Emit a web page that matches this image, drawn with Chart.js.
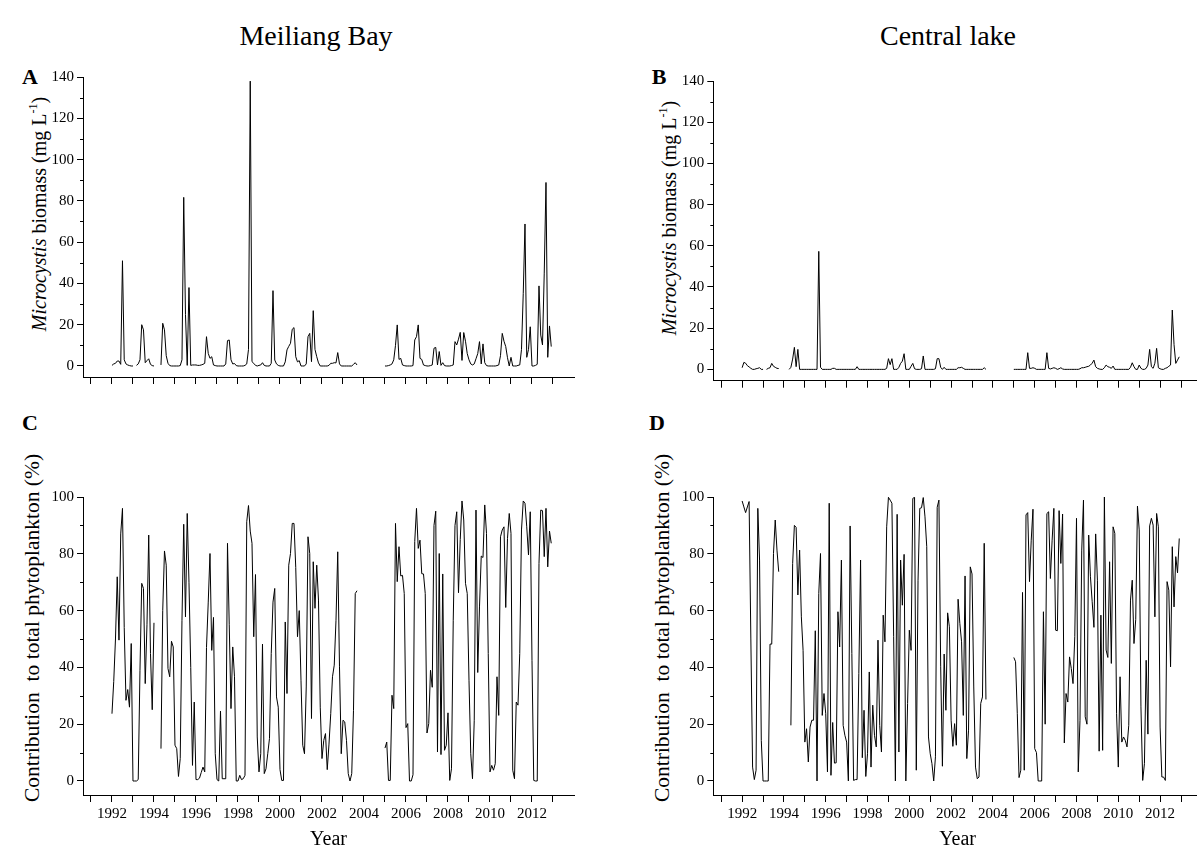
<!DOCTYPE html>
<html>
<head>
<meta charset="utf-8">
<script src="https://cdn.jsdelivr.net/npm/chart.js@4.4.1/dist/chart.umd.min.js"></script>
<style>
  html, body { margin: 0; padding: 0; background: #fff; }
  body { width: 1197px; height: 851px; position: relative; overflow: hidden;
         font-family: 'Liberation Serif', 'Times New Roman', serif; color: #000; }
  canvas { position: absolute; }
  .lbl { position: absolute; white-space: nowrap; transform: translate(-50%, -50%); line-height: 1; }
  .head { font-size: 28px; }
  .letter { font-size: 22px; font-weight: bold; }
  .ytitle { font-size: 20px; transform: translate(-50%, -50%) rotate(-90deg); }
  .ytitle.share { font-size: 21.5px; }
  .ytitle sup { font-size: 0.6em; vertical-align: 0.7em; }
</style>
</head>
<body>
<div class="lbl head" style="left:316px; top:36px">Meiliang Bay</div>
<div class="lbl head" style="left:948px; top:36px">Central lake</div>
<div class="lbl letter" style="left:30px; top:77px">A</div>
<div class="lbl letter" style="left:659px; top:77px">B</div>
<div class="lbl letter" style="left:30px; top:423px">C</div>
<div class="lbl letter" style="left:657px; top:423px">D</div>
<div class="lbl ytitle" style="left:38px; top:214px"><i>Microcystis</i> biomass (mg L<sup>-1</sup>)</div>
<div class="lbl ytitle" style="left:668px; top:218px"><i>Microcystis</i> biomass (mg L<sup>-1</sup>)</div>
<div class="lbl ytitle share" style="left:33px; top:628px">Contribution&nbsp;&nbsp;to total phytoplankton (%)</div>
<div class="lbl ytitle share" style="left:663px; top:628px">Contribution&nbsp;&nbsp;to total phytoplankton (%)</div>

<canvas id="chartA"></canvas>
<canvas id="chartB"></canvas>
<canvas id="chartC"></canvas>
<canvas id="chartD"></canvas>

<script>
// years of monthly sampling, one row of 12 values per year
const years = [1992, 1993, 1994, 1995, 1996, 1997, 1998, 1999, 2000, 2001, 2002,
               2003, 2004, 2005, 2006, 2007, 2008, 2009, 2010, 2011, 2012];
const xTickYears = [1991, 1992, 1993, 1994, 1995, 1996, 1997, 1998, 1999, 2000, 2001, 2002,
                    2003, 2004, 2005, 2006, 2007, 2008, 2009, 2010, 2011, 2012, 2013];
const biomassTicks = [0, 10, 20, 30, 40, 50, 60, 70, 80, 90, 100, 110, 120, 130, 140];
const shareTicks = [0, 10, 20, 30, 40, 50, 60, 70, 80, 90, 100];
const _ = null;

// Meiliang Bay, Microcystis biomass (mg/L)
const meiliangBiomass = [
  0.3, 1, 1.3, 2.4, 2.4, 0.8, 51, 3, 1, 0.5, 0.2, 0,
  0, _, 0.3, 1, 3, 20, 17.5, 1.6, 2.6, 3.5, 0.8, 0.2,
  0, _, _, _, 0.5, 20.7, 17.5, 5, 1.3, 0.2, 0, 0,
  0, 0, 0, 0.2, 3, 81.7, 25, 0.3, 38, 0.3, 0.5, 0.5,
  0.5, 0.3, 0.3, 0.5, 0.8, 1.3, 14.2, 6.1, 3.7, 4.5, 0.5, 0.2,
  0, 0, 0, 0, 0, 1, 12.3, 12.6, 3, 1, 1.2, 0.2,
  0, 0, 0, 0, 0.3, 1, 8, 138, 2.1, 1.3, 0.3, 0,
  0.3, 0.5, 1.6, 0.3, 0, 0, 0, 1.3, 36.5, 2.9, 1, 0.3,
  0, 0, 0, 2, 7.8, 9.5, 11, 17.8, 18.6, 4.5, 2, 2.6,
  0, 0, 0, 1, 14.2, 15.8, 2.1, 26.8, 8, 4.5, 1.5, 0,
  0, 0, 0, 0, 0.3, 1.3, 1.3, 1.6, 1.5, 6.5, 1, 0,
  0, 0, 0, 0, 0, 0, 0.8, 1.6, 0.5, _, _, _,
  _, _, _, _, _, _, _, _, _, _, _, _,
  0, 0, 0.2, 0.5, 1, 3, 10, 19.9, 3.2, 3.7, 0.5, 0.2,
  0, 0, 0, 0, 0.2, 12.6, 14.2, 19.9, 3.7, 3.2, 0.5, 0.2,
  0, 0, 0.2, 0.5, 8.6, 9, 0.5, 7, 0.3, 1.6, 0.2, 0,
  0, 0, 0.2, 0.5, 11.8, 10.2, 13, 16.3, 2.7, 16.2, 12, 6,
  3, 1, 0.5, 1, 3.5, 6, 11.8, 1, 10.7, 1.6, 0.2, 0,
  0, 0, 0, 0, 0.2, 0.5, 5, 15.8, 12, 9.4, 4, 0,
  4.2, 0, 0, 0, 0.3, 0.5, 8, 35, 68.8, 4.2, 8, 19,
  0, 0, 0.3, 0.8, 38.8, 15, 10.2, 45, 88.9, 4.2, 19.4, 9.4
];

// Central lake, Microcystis biomass (mg/L)
const centralBiomass = [
  0.8, 3.4, 3, 1.8, 1.2, 0.5, 0, 0, 0.3, 0.5, 0.8, 0,
  0, _, 0, 0.5, 0.8, 2.9, 1.5, 1, 0.5, 0.4, _, _,
  _, _, _, 0, 1, 5, 10.7, 1.3, 9.7, 0, 0, 0,
  0, 0, 0, 0, 0, 0, 0, 0, 57.3, 1, 0, 0,
  0, 0, 0, 0, 0.5, 0.5, 0, 0, 0, 0, 0, 0,
  0, 0, 0, 0, 0, 0, 1.3, 0, 0, 0, 0, 0,
  0, 0, 0, 0, 0, 0, 0, 0, 0, 0, 0, 0.5,
  5.2, 2.3, 5.2, 0, 0, 0, 1, 2.9, 4, 7.6, 0, 0,
  0, 1.5, 2.9, 0.3, 0, 0, 0, 0.3, 6.5, 0, 0, 0,
  0, 0, 0, 0.3, 5.2, 5.2, 1, 0, 1, 0, 0, 0,
  0, 0, 0, 0, 0.8, 0.8, 1, 0.5, 0, 0, 0, 0,
  0, 0, 0, 0, 0, 0, 0, 0.8, 0, _, _, _,
  _, _, _, _, _, _, _, _, _, _, _, _,
  0, 0, 0, 0, 0, 0, 0, 0, 8.1, 0.5, 0.5, 0.8,
  0.5, 0, 0, 0, 0, 0, 0, 8.1, 0.5, 0.2, 0.5, 0.8,
  0.5, 0, 0.3, 0.8, 0.2, 0, 0, 0, 0, 0, 0, 0,
  0, 0, 0.3, 0.8, 0.8, 1, 1.3, 1.5, 2.1, 3, 4.5, 1.3,
  0.5, 0.2, 0, 0, 0.8, 2.1, 1.3, 1, 0.5, 1.6, 0, 0,
  0, 0, 0, 0, 0, 0, 0, 1, 3.2, 1.3, 0, 0,
  2.1, 0.5, 0, 0, 0.5, 2.1, 9.7, 1.3, 0.5, 3, 10.2, 0.8,
  0.3, 0, 0, 0.5, 0.8, 1.5, 2.1, 28.8, 12, 2.9, 4.5, 6.1
];

// Meiliang Bay, contribution to total phytoplankton (%)
const meiliangShare = [
  23.7, 35, 50, 71.9, 49.6, 87, 96, 54, 28.4, 32.2, 26, 48.4,
  0, 0, 0, 0.5, 39, 69.6, 67.8, 34.3, 55, 86.6, 44.9, 25.1,
  55.7, _, _, _, 11.4, 60, 81, 76, 39.6, 36.7, 49.2, 47.2,
  12.6, 11.4, 1.6, 7.9, 56.6, 90.4, 57.8, 94.2, 70, 40, 5.5, 27.8,
  0.5, 0.5, 1, 3, 4.9, 3.2, 47, 63, 80.1, 46, 57.6, 9.6,
  0.5, 0, 24.6, 0.8, 0.8, 0.8, 83.7, 55, 25.5, 47.2, 36.7, 0,
  0, 2, 0.5, 0.8, 2, 91.3, 97, 88, 83.7, 50.8, 72.7, 15.5,
  3.2, 9.6, 48.2, 2.6, 4.3, 9.6, 15, 44.9, 63, 67.8, 29.6, 26,
  4, 0.2, 0.2, 56, 30.8, 76, 80.1, 90.7, 90.7, 75.2, 50.8, 60,
  35.5, 12.6, 9.6, 33.1, 86, 80.1, 22, 77.2, 60.8, 76, 63.7, 26,
  7.9, 14.3, 16.7, 4, 13, 23.7, 36.7, 40.8, 56.6, 80.7, 40.2, 9.6,
  21.4, 20.8, 14.3, 2.6, 0, 2.6, 24.9, 66, 67, _, _, _,
  _, _, _, _, _, _, _, _, _, _, _, _,
  11.6, 13.7, 0.2, 0.2, 30.2, 25.5, 90.7, 70.2, 82.5, 72.2, 72.4, 66,
  18.8, 20.2, 0, 0, 2.2, 84.3, 96, 81.9, 84.8, 73, 72.9, 66,
  16.9, 20.2, 39, 33, 90, 95, 10.2, 80.1, 9.3, 72.9, 10.8, 12.6,
  24, 0.2, 4.3, 56.6, 90, 94.8, 66.3, 85, 98.6, 91.9, 69.6, 66,
  35.5, 9.6, 0.8, 21.4, 95.4, 38.2, 61.3, 79.2, 78.7, 97.2, 87.2, 44.9,
  3.2, 5.5, 3.8, 6.1, 36.7, 23.1, 86, 88.4, 89.5, 61.1, 85.4, 94.2,
  87.2, 3.8, 0.8, 27.8, 26.7, 44.9, 88.4, 98.6, 97.8, 89.5, 79.6, 94.8,
  42.5, 0.2, 0, 0, 76.6, 95.4, 95.2, 79, 96, 75.4, 88, 83.7
];

// Central lake, contribution to total phytoplankton (%)
const centralShare = [
  98.6, 96.5, 94.5, 96.5, 98.4, 50, 4.9, 0.5, 3.8, 96, 77.8, 14.3,
  0, 0, 0, 0, 48.2, 48.2, 80.1, 91.9, 81.3, 73.7, _, _,
  _, _, _, _, 19.6, 76.6, 90, 89.3, 65.5, 81.3, 57.8, 46,
  13.7, 18.4, 6.7, 19, 21.4, 21.4, 52.9, 0, 66, 80.1, 23.1, 30.8,
  23.7, 3.2, 97.8, 2, 20.6, 6.3, 6.4, 59.6, 47.2, 77.8, 19.6, 16.1,
  13.7, 0, 89.8, 44.9, 0.2, 0.5, 0.5, 37.8, 77.8, 8.2, 24.9, 1.6,
  9.6, 38.4, 4.9, 26.7, 16.1, 12, 49.6, 19.6, 10.2, 58.4, 49, 89.5,
  99.9, 98.9, 97.8, 50.8, 0, 93.9, 10.2, 77.8, 61.9, 79.8, 0, 27.3,
  53.1, 46, 99.5, 99.9, 3.8, 70.7, 96, 96.2, 99.8, 93, 82.5, 15.5,
  9.6, 6.1, 0, 8.5, 96.4, 98.9, 40.2, 5.2, 44.7, 24.9, 59.2, 54.3,
  21.4, 12.2, 20.2, 12.6, 64, 55.5, 49, 23.1, 72.2, 7.9, 17.9, 75.4,
  72.9, 33.1, 4.9, 0.8, 1.4, 27.3, 29.6, 83.7, 28.7, _, _, _,
  _, _, _, _, _, _, _, _, _, _, _, _,
  43.5, 42, 23.7, 1.2, 3.8, 66.4, 3.8, 93.7, 94.5, 70.2, 84.8, 95.7,
  11.4, 10, 0, 0, 0, 59.6, 20, 94.2, 94.8, 71.3, 84.8, 96,
  53.1, 52.9, 95.2, 76.6, 94, 13.4, 30.8, 27.8, 43.7, 39.6, 34.3, 50.8,
  92.5, 3.2, 21.4, 81.3, 98.9, 22.6, 20, 86.6, 71.9, 63.1, 54.1, 87,
  70.7, 10.5, 58.4, 10.8, 100, 46.1, 43.5, 77.2, 41.4, 89.5, 87.2, 23.7,
  4.9, 36.7, 13.7, 15.5, 14.3, 12, 19.6, 63.7, 70.7, 48.4, 56.9, 96.8,
  88.4, 26.1, 0.2, 6.1, 42.5, 16.5, 89.8, 92.5, 90.1, 57.8, 94.2, 89.5,
  19, 1.4, 1.4, 0.2, 70.2, 67.2, 40.2, 82.5, 61.3, 79, 73.3, 85.4
];

// decimal time of every monthly sample
const months = [];
years.forEach(y => { for (let m = 0; m < 12; m++) months.push(y + m / 12); });

const xMin = 1990.62, xMax = 2014.0;
const serif = "'Liberation Serif', 'Times New Roman', serif";

Chart.defaults.font.family = serif;
Chart.defaults.font.size = 15;
Chart.defaults.color = '#000';

// short unlabelled ticks at the odd tens of the y axis
const minorTicks = {
  id: 'minorTicks',
  afterDraw(chart) {
    const y = chart.scales.y, ctx = chart.ctx;
    ctx.save();
    ctx.strokeStyle = '#000';
    ctx.lineWidth = 1;
    y.ticks.forEach(t => {
      if (t.value % 20 === 0) return;
      const py = Math.round(y.getPixelForValue(t.value)) + 0.5;
      ctx.beginPath();
      ctx.moveTo(y.right - 3, py);
      ctx.lineTo(y.right, py);
      ctx.stroke();
    });
    ctx.restore();
  }
};

const panels = [
  { id: 'chartA', values: meiliangBiomass, box: [0, 50, 600, 345], area: [83, 77, 574, 377],
    yMin: -5.33, yMax: 140, yTicks: biomassTicks, xLabels: false },
  { id: 'chartB', values: centralBiomass, box: [620, 50, 600, 345], area: [713.3, 81, 1201.9, 380.7],
    yMin: -5.5, yMax: 140, yTicks: biomassTicks, xLabels: false },
  { id: 'chartC', values: meiliangShare, box: [0, 420, 600, 431], area: [83, 497, 574, 795],
    yMin: -4.93, yMax: 100, yTicks: shareTicks, xLabels: true },
  { id: 'chartD', values: centralShare, box: [620, 420, 600, 431], area: [713.3, 497, 1201.9, 795],
    yMin: -4.93, yMax: 100, yTicks: shareTicks, xLabels: true }
];

function drawPanel(p) {
  const cv = document.getElementById(p.id);
  const [left, top, w, h] = p.box;
  const [l, t, r, b] = p.area;
  cv.width = w;
  cv.height = h;
  cv.style.left = left + 'px';
  cv.style.top = top + 'px';

  new Chart(cv, {
    type: 'line',
    data: {
      datasets: [{
        data: months.map((x, i) => ({ x: x, y: p.values[i] })),
        borderColor: '#000',
        borderWidth: 1,
        pointRadius: 0,
        tension: 0,
        spanGaps: false
      }]
    },
    options: {
      responsive: false,
      animation: false,
      events: [],
      layout: { padding: { left: 0, top: t - top, right: left + w - r, bottom: 0 } },
      plugins: { legend: { display: false }, tooltip: { enabled: false } },
      scales: {
        x: {
          type: 'linear',
          min: xMin,
          max: xMax,
          afterBuildTicks: s => { s.ticks = xTickYears.map(v => ({ value: v })); },
          afterFit: s => { s.height = top + h - b; },
          ticks: {
            autoSkip: false,
            maxRotation: 0,
            padding: 3,
            font: { family: serif, size: 15 },
            color: '#000',
            callback: v => (p.xLabels && v % 2 === 0) ? String(v) : ''
          },
          grid: { drawOnChartArea: false, tickLength: 7, tickColor: '#000', tickWidth: 1 },
          border: { color: '#000', width: 1 },
          title: {
            display: p.xLabels,
            text: 'Year',
            color: '#000',
            font: { family: serif, size: 20, lineHeight: 1 },
            padding: { top: 0, bottom: 1 }
          }
        },
        y: {
          type: 'linear',
          min: p.yMin,
          max: p.yMax,
          afterBuildTicks: s => { s.ticks = p.yTicks.map(v => ({ value: v })); },
          afterFit: s => { s.width = l - left; },
          ticks: {
            padding: 3,
            font: { family: serif, size: 15 },
            color: '#000',
            callback: v => v % 20 === 0 ? String(v) : ''
          },
          grid: {
            drawOnChartArea: false,
            tickLength: 6,
            tickWidth: 1,
            tickColor: c => (c.tick && c.tick.value % 20 === 0) ? '#000' : 'rgba(0,0,0,0)'
          },
          border: { color: '#000', width: 1 }
        }
      }
    },
    plugins: [minorTicks]
  });
}

panels.forEach(drawPanel);
</script>
</body>
</html>
